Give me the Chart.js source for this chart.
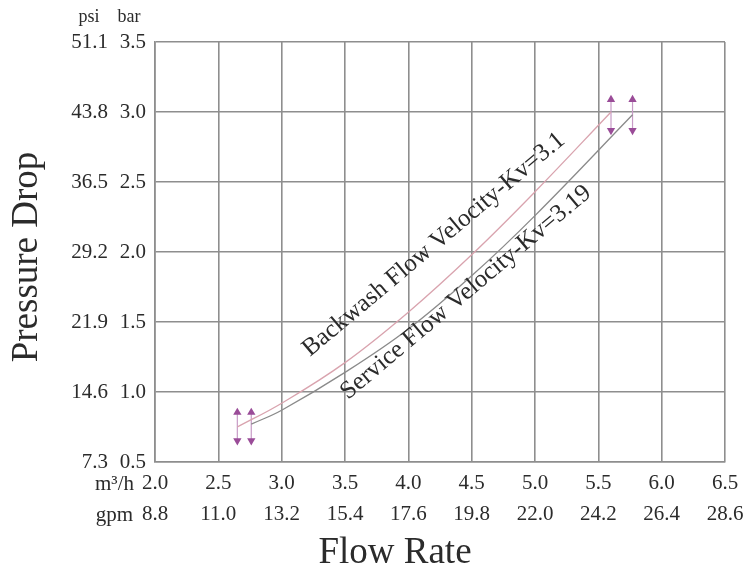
<!DOCTYPE html>
<html>
<head>
<meta charset="utf-8">
<script src="https://cdn.jsdelivr.net/npm/chart.js@4.4.0/dist/chart.umd.min.js"></script>
<style>
  html, body { margin: 0; padding: 0; background: #fff; }
  #wrap { width: 755px; height: 570px; }
</style>
</head>
<body>
<div id="wrap"><canvas id="chart" width="755" height="570"></canvas></div>
<script>
// tick labels (two unit rows on each axis)
const flowTicks = [2.0, 2.5, 3.0, 3.5, 4.0, 4.5, 5.0, 5.5, 6.0, 6.5];
const gpmTicks = ["8.8", "11.0", "13.2", "15.4", "17.6", "19.8", "22.0", "24.2", "26.4", "28.6"];
const barTicks = [0.5, 1.0, 1.5, 2.0, 2.5, 3.0, 3.5];
const psiTicks = ["7.3", "14.6", "21.9", "29.2", "36.5", "43.8", "51.1"];

// curves (m3/h -> bar)
const backwashFlow = [2.65, 3.0, 3.5, 4.0, 4.5, 5.0, 5.6];
const backwashBar = [0.75, 0.92, 1.21, 1.57, 1.98, 2.43, 3.0];
const serviceFlow = [2.76, 3.0, 3.5, 4.0, 4.5, 5.0, 5.77];
const serviceBar = [0.77, 0.87, 1.14, 1.45, 1.83, 2.26, 2.98];

// double-headed range arrows at the curve ends
const arrowFlow = [2.65, 2.76, 5.6, 5.77];
const arrowLow = [0.653, 0.653, 2.868, 2.868];
const arrowHigh = [0.854, 0.854, 3.089, 3.089];

const serif = '"Liberation Serif", "Times New Roman", serif';
const gridColor = "#8e8e8e";
const textColor = "#2b2b2b";

const toPoints = (xs, ys) => xs.map((v, i) => ({ x: v, y: ys[i] }));

const arrowSets = arrowFlow.map((f, i) => ({
  data: [{ x: f, y: arrowLow[i] }, { x: f, y: arrowHigh[i] }],
  borderColor: "#c79bc6",
  borderWidth: 1.2,
  pointStyle: "triangle",
  pointRadius: 4.8,
  pointRotation: [180, 0],
  pointBackgroundColor: "#9a4c98",
  pointBorderColor: "#9a4c98",
  pointBorderWidth: 0
}));

// free text: unit headers, axis titles, curve names
const chartText = {
  id: "chartText",
  beforeDraw(chart) {
    const ctx = chart.ctx;
    ctx.save();
    ctx.fillStyle = "#fff";
    ctx.fillRect(0, 0, chart.width, chart.height);
    ctx.restore();
  },
  afterDraw(chart) {
    const { ctx, scales: { x, y } } = chart;
    ctx.save();
    ctx.fillStyle = textColor;
    ctx.textBaseline = "middle";

    ctx.font = "18px " + serif;
    ctx.textAlign = "center";
    ctx.fillText("psi", 89, 17);
    ctx.fillText("bar", 129, 17);

    ctx.font = "21px " + serif;
    ctx.textAlign = "right";
    ctx.fillText("m³/h", 134, 484);
    ctx.fillText("gpm", 133, 515);

    ctx.font = "37px " + serif;
    ctx.textAlign = "center";
    ctx.textBaseline = "alphabetic";
    ctx.fillText("Flow Rate", 395, 563);

    ctx.save();
    ctx.translate(37, 257);
    ctx.rotate(-Math.PI / 2);
    ctx.fillText("Pressure Drop", 0, 0);
    ctx.restore();

    ctx.font = "25px " + serif;
    ctx.textAlign = "left";
    const labels = [
      ["Backwash Flow Velocity-Kv=3.1", 3.224, 1.25],
      ["Service Flow Velocity-Kv=3.19", 3.524, 0.943]
    ];
    labels.forEach(([txt, fx, by]) => {
      ctx.save();
      ctx.translate(x.getPixelForValue(fx), y.getPixelForValue(by));
      ctx.rotate(-40 * Math.PI / 180);
      ctx.fillText(txt, 0, 0);
      ctx.restore();
    });
    ctx.restore();
  }
};

new Chart(document.getElementById("chart"), {
  type: "line",
  data: {
    datasets: [
      {
        label: "Backwash",
        data: toPoints(backwashFlow, backwashBar),
        borderColor: "#d9a3ae",
        borderWidth: 1.3,
        pointRadius: 0,
        tension: 0.4
      },
      {
        label: "Service",
        data: toPoints(serviceFlow, serviceBar),
        borderColor: "#8a8a8a",
        borderWidth: 1.3,
        pointRadius: 0,
        tension: 0.4
      },
      ...arrowSets
    ]
  },
  options: {
    responsive: false,
    animation: false,
    layout: { padding: { top: 42, right: 30, bottom: 0, left: 0 } },
    plugins: { legend: { display: false }, tooltip: { enabled: false } },
    scales: {
      x: {
        type: "linear",
        min: 2,
        max: 6.5,
        afterBuildTicks: s => { s.ticks = flowTicks.map(v => ({ value: v })); },
        afterFit: s => { s.height = 108; },
        grid: { color: gridColor, lineWidth: 1.6, drawTicks: false },
        border: { color: gridColor, width: 1.6 },
        ticks: {
          padding: 6,
          color: textColor,
          maxRotation: 0,
          autoSkip: false,
          font: { family: serif, size: 21, lineHeight: 1.48 },
          callback: (v, i) => [v.toFixed(1), gpmTicks[i]]
        }
      },
      y: {
        type: "linear",
        position: "left",
        weight: 0,
        min: 0.5,
        max: 3.5,
        afterBuildTicks: s => { s.ticks = barTicks.map(v => ({ value: v })); },
        afterFit: s => { s.width = 45; },
        grid: { color: gridColor, lineWidth: 1.6, drawTicks: false },
        border: { color: gridColor, width: 1.6 },
        ticks: {
          padding: 9,
          color: textColor,
          font: { family: serif, size: 21 },
          callback: v => v.toFixed(1)
        }
      },
      psi: {
        type: "linear",
        position: "left",
        weight: 1,
        min: 0.5,
        max: 3.5,
        afterBuildTicks: s => { s.ticks = barTicks.map(v => ({ value: v })); },
        afterFit: s => { s.width = 110; },
        grid: { display: false, drawTicks: false },
        border: { display: false },
        ticks: {
          padding: 2,
          color: textColor,
          font: { family: serif, size: 21 },
          callback: (v, i) => psiTicks[i]
        }
      }
    }
  },
  plugins: [chartText]
});
</script>
</body>
</html>
